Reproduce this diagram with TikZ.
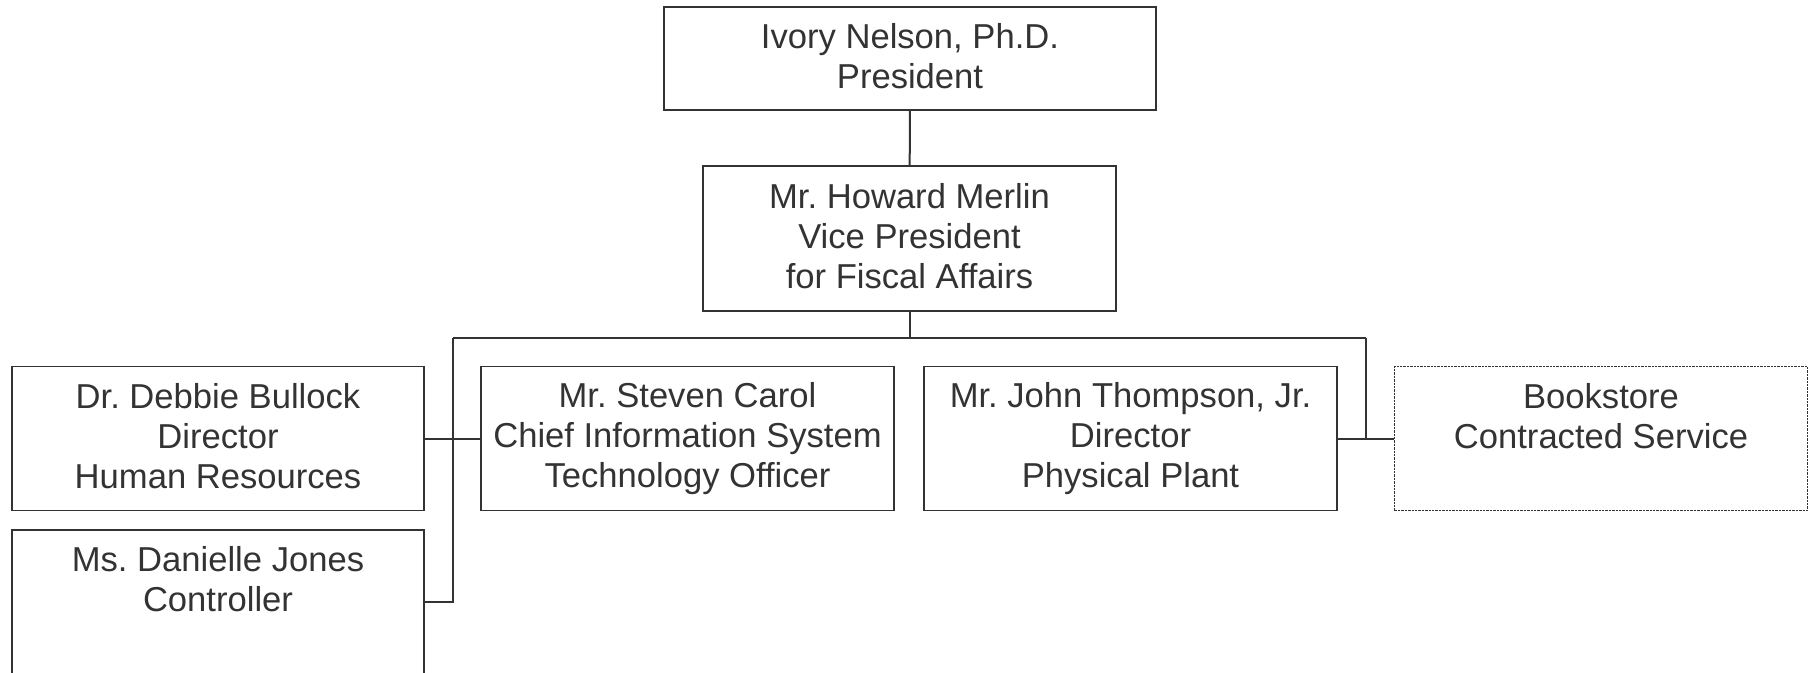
\documentclass[tikz,border=0pt]{standalone}
\usepackage{fontspec}
\setmainfont{Liberation Sans}
\frenchspacing
\usetikzlibrary{positioning}
\definecolor{ink}{HTML}{333333}
\newcommand\lnstrut{\rule[-6pt]{0pt}{37pt}}

\begin{document}
\begin{tikzpicture}[x=1pt,y=-1pt,%
		   unit/.style={draw=ink,line width=1.8pt,text=ink,font=\fontsize{34.6}{40}\selectfont,align=center,
		                inner sep=0pt,minimum width=413pt,minimum height=144pt,
		                execute at begin node=\lnstrut,execute at end node=\lnstrut},
		   contract/.style={unit,line width=1.8pt,dash pattern=on 2.4pt off 1pt},
		   link/.style={draw=ink,line width=2pt}]

	\clip (0,0) rectangle (1811,672);

	\node[unit,minimum width=492pt,minimum height=103pt](pres) at (910,58.5) {Ivory Nelson, Ph.D.\\President};
	\node[unit,minimum height=145pt](vp) at (909.5,238.5) {Mr. Howard Merlin\\Vice President\\for Fiscal Affairs};

	\node[unit,minimum width=412pt](hr) at (218,438.5) {Dr. Debbie Bullock\\Director\\Human Resources};
	\node[unit](cio) at (687.5,438.5) {Mr. Steven Carol\\Chief Information System\\Technology Officer};
	\node[unit](plant) at (1130.5,438.5) {Mr. John Thompson, Jr.\\Director\\Physical Plant};
	\node[contract](books) at (1601,438.5) {Bookstore\\Contracted Service\\};
	\node[unit,minimum width=412pt](ctrl) at (218,602) {Ms. Danielle Jones\\Controller\\};

	% reporting lines
	\coordinate (busL) at (453,338);
	\coordinate (busR) at (1366,338);
	\draw[link] (pres) -- (vp);
	\draw[link] (vp.south) -- (vp.south |- busL);
	\draw[link] (busL) -- (busR);
	\draw[link] (busL) |- (ctrl.east);
	\draw[link] (hr.east) -- (cio.west);
	\draw[link] (busR) |- (plant.east);
	\draw[link] (plant.east) -- (books.west);
\end{tikzpicture}
\end{document}
